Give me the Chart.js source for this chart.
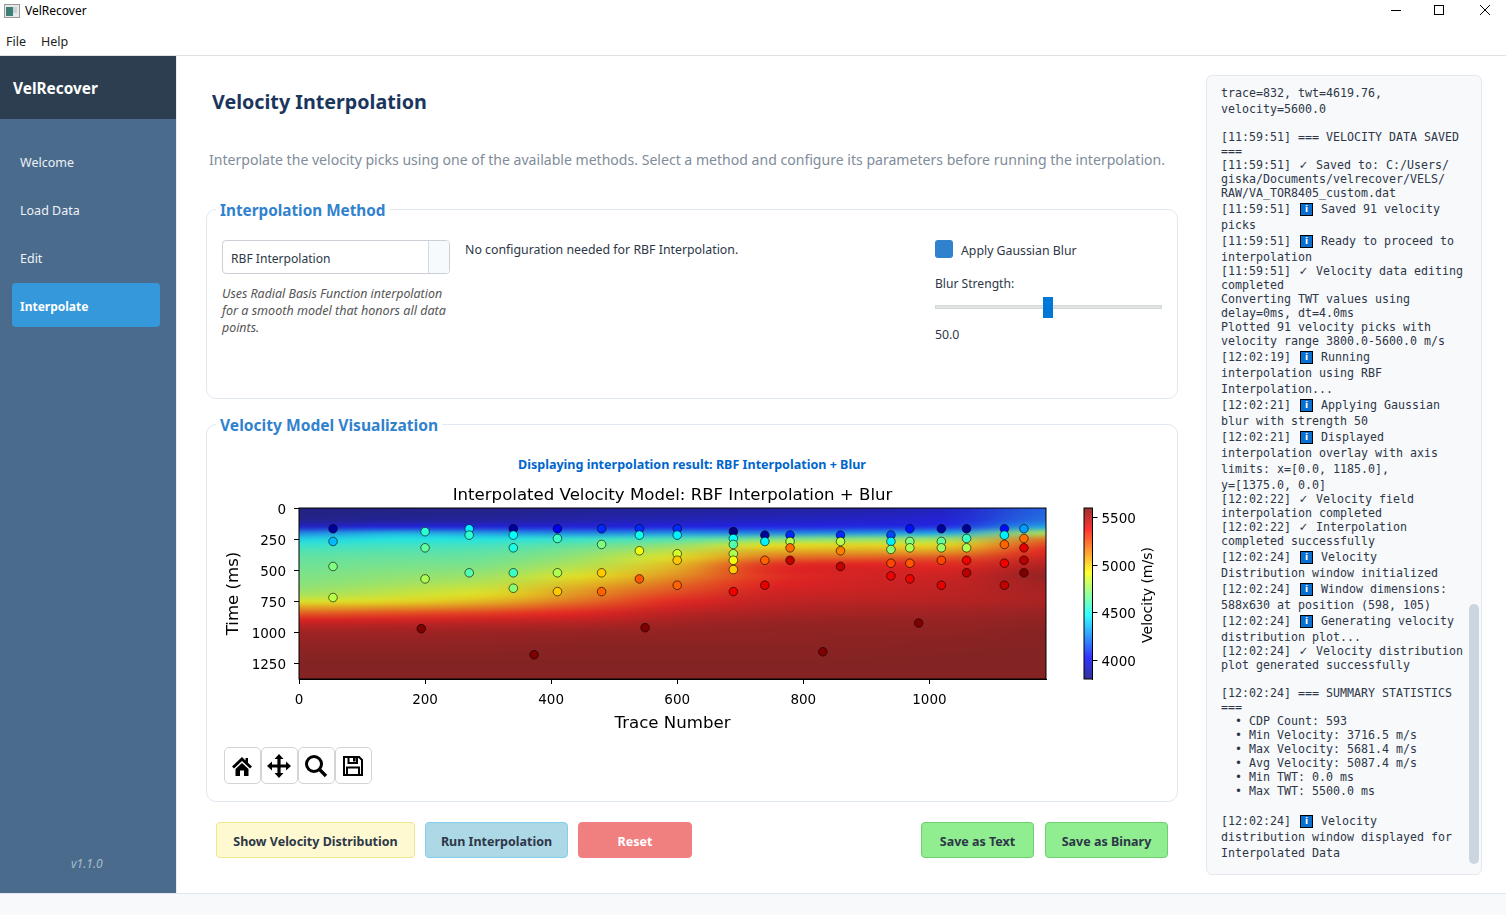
<!DOCTYPE html>
<html>
<head>
<meta charset="utf-8">
<title>VelRecover</title>
<script src="https://cdn.jsdelivr.net/npm/chart.js@4"></script>
<style>
html,body{margin:0;padding:0;width:1506px;height:915px;overflow:hidden;background:#fff;font-family:"Noto Sans",sans-serif;color:#2d3748}
.t{position:absolute;white-space:nowrap;line-height:20px;height:20px}
.b{position:absolute;box-sizing:border-box}
.btn{position:absolute;box-sizing:border-box;text-align:center;font-weight:700;font-size:12.5px;line-height:37px;height:36px;border-radius:4px;border:1px solid}
.tool{position:absolute;box-sizing:border-box;top:747px;width:37px;height:37px;border:1px solid #d4d4d4;border-radius:5px;background:#fff}
.tool svg{position:absolute;left:4px;top:5px}
.log{position:absolute;left:1221px;white-space:pre;font-family:"DejaVu Sans Mono",monospace;font-size:11.63px;line-height:16px;height:16px;color:#2d3748}
.info{display:inline-block;box-sizing:border-box;width:13px;height:13px;margin:0 1px 0 2px;background:#0a6fd0;border:1px solid #000;vertical-align:1px;color:#fff;font:700 9px/11px "DejaVu Sans";text-align:center}
.chk{display:inline-block;width:11px;text-align:center;font-size:13px;font-weight:700}
canvas{position:absolute;display:block}
</style>
</head>
<body>
<!-- title bar + menu -->
<svg class="b" style="left:4px;top:4px" width="16" height="14"><rect x=".5" y=".5" width="15" height="13" fill="#e8e8e8" stroke="#999"/><rect x="2" y="3" width="7" height="9" fill="#3f7f78"/><rect x="9" y="3" width="4" height="6" fill="#c9d3da"/></svg>
<div class="t" style="left:25px;top:1px;font-size:12px;color:#000">VelRecover</div>
<svg class="b" style="left:1385px;top:0" width="110" height="22"><path d="M6 10.5H16" stroke="#000"/><rect x="49.5" y="5.5" width="9" height="9" fill="none" stroke="#000"/><path d="M95 5L105 15M105 5L95 15" stroke="#000"/></svg>
<div class="t" style="left:6px;top:32px;font-size:12.5px;color:#222">File</div>
<div class="t" style="left:41px;top:32px;font-size:12.5px;color:#222">Help</div>
<div class="b" style="left:0;top:55px;width:1506px;height:1px;background:#dfe1e5"></div>

<!-- sidebar -->
<div class="b" style="left:0;top:56px;width:176px;height:837px;background:#4a6b8c"></div>
<div class="b" style="left:0;top:56px;width:176px;height:63px;background:#2c3e50"></div>
<div class="t" style="left:13px;top:79px;font-size:15.4px;font-weight:700;color:#fff">VelRecover</div>
<div class="t" style="left:20px;top:153px;font-size:12.5px;color:#edf2f7">Welcome</div>
<div class="t" style="left:20px;top:201px;font-size:12.5px;color:#edf2f7">Load Data</div>
<div class="t" style="left:20px;top:249px;font-size:12.5px;color:#edf2f7">Edit</div>
<div class="b" style="left:12px;top:283px;width:148px;height:44px;background:#3498db;border-radius:4px"></div>
<div class="t" style="left:20px;top:297px;font-size:12px;font-weight:700;color:#fff">Interpolate</div>
<div class="t" style="left:71px;top:854px;font-size:12px;font-style:italic;color:#a9bccb">v1.1.0</div>
<div class="b" style="left:176px;top:56px;width:1px;height:837px;background:#e8ebf0"></div>
<div class="b" style="left:0;top:893px;width:1506px;height:22px;background:#f8f9fb;border-top:1px solid #e2e6ee"></div>

<!-- heading -->
<div class="t" style="left:212px;top:92px;font-size:19.7px;font-weight:700;color:#1a365d">Velocity Interpolation</div>
<div class="t" style="left:209px;top:150px;font-size:14.07px;color:#7f8c9a">Interpolate the velocity picks using one of the available methods. Select a method and configure its parameters before running the interpolation.</div>

<!-- interpolation method group -->
<div class="b" style="left:206px;top:209px;width:972px;height:190px;border:1px solid #e2e8f0;border-radius:10px"></div>
<div class="t" style="left:216px;top:200px;padding:0 4px;background:#fff;font-size:15.3px;font-weight:700;color:#3182ce">Interpolation Method</div>
<div class="b" style="left:222px;top:240px;width:228px;height:34px;border:1px solid #cbd0d6;border-radius:4px"></div>
<div class="b" style="left:428px;top:241px;width:21px;height:32px;background:#f7fafc;border-left:1px solid #d5dae0;border-radius:0 3px 3px 0"></div>
<div class="t" style="left:231px;top:249px;font-size:12.1px;color:#2d3748">RBF Interpolation</div>
<div class="t" style="left:222px;top:284px;font-size:12.4px;font-style:italic;color:#555">Uses Radial Basis Function interpolation</div>
<div class="t" style="left:222px;top:301px;font-size:12.55px;font-style:italic;color:#555">for a smooth model that honors all data</div>
<div class="t" style="left:222px;top:318px;font-size:12.4px;font-style:italic;color:#555">points.</div>
<div class="t" style="left:465px;top:240px;font-size:12.35px;color:#2d3748">No configuration needed for RBF Interpolation.</div>
<div class="b" style="left:935px;top:240px;width:18px;height:18px;background:#3182ce;border-radius:3px"></div>
<div class="t" style="left:961px;top:241px;font-size:12.3px;color:#2d3748">Apply Gaussian Blur</div>
<div class="t" style="left:935px;top:274px;font-size:12.1px;color:#2d3748">Blur Strength:</div>
<div class="b" style="left:935px;top:305px;width:227px;height:4px;background:#e0e3e4;border:1px solid #d3d7d8"></div>
<div class="b" style="left:1043px;top:297px;width:10px;height:21px;background:#0078d7"></div>
<div class="t" style="left:935px;top:325px;font-size:12.3px;color:#2d3748">50.0</div>

<!-- velocity model group -->
<div class="b" style="left:206px;top:424px;width:972px;height:378px;border:1px solid #e2e8f0;border-radius:10px"></div>
<div class="t" style="left:216px;top:415px;padding:0 4px;background:#fff;font-size:15.6px;font-weight:700;color:#3182ce">Velocity Model Visualization</div>
<div class="t" style="left:518px;top:455px;font-size:12.55px;font-weight:700;color:#0066cc">Displaying interpolation result: RBF Interpolation + Blur</div>

<canvas id="velChart" width="845" height="262" style="left:215px;top:478px"></canvas>
<canvas id="barChart" width="100" height="191" style="left:1070px;top:498px"></canvas>

<!-- plot toolbar -->
<div class="tool" style="left:224px"><svg width="26" height="26" viewBox="0 0 26 26"><path d="M13 4L3 13.5L5 15.5L13 8L21 15.5L23 13.5L19 9.8V5H16.5V7.5ZM6.5 16V23H11V17.5H15V23H19.5V16L13 10Z"/></svg></div>
<div class="tool" style="left:261px"><svg width="26" height="26" viewBox="0 0 26 26"><path d="M13 1L17.5 6H14.6V11.4H20V8.5L25 13L20 17.5V14.6H14.6V20H17.5L13 25L8.5 20H11.4V14.6H6V17.5L1 13L6 8.5V11.4H11.4V6H8.5Z"/></svg></div>
<div class="tool" style="left:298px"><svg width="26" height="26" viewBox="0 0 26 26"><circle cx="11" cy="11" r="7.5" fill="none" stroke="#000" stroke-width="3"/><path d="M16.5 16.5L23 23" stroke="#000" stroke-width="3.4"/></svg></div>
<div class="tool" style="left:335px"><svg width="26" height="26" viewBox="0 0 26 26"><path d="M4 4H19L22 7V22H4ZM8.5 4.5V10H17V4.5M7 22V14.5H19V22" fill="none" stroke="#000" stroke-width="2"/><rect x="13" y="5" width="2.6" height="3.5"/></svg></div>

<!-- action buttons -->
<div class="btn" style="left:216px;top:822px;width:199px;background:#fff9d1;border-color:#f0e68c;color:#2d3748">Show Velocity Distribution</div>
<div class="btn" style="left:425px;top:822px;width:143px;background:#add8e6;border-color:#87ceeb;color:#2d3748">Run Interpolation</div>
<div class="btn" style="left:578px;top:822px;width:114px;background:#f08080;border-color:#f08080;color:#fff">Reset</div>
<div class="btn" style="left:921px;top:822px;width:113px;background:#90ee90;border-color:#6fcf6f;color:#2d3748">Save as Text</div>
<div class="btn" style="left:1045px;top:822px;width:123px;background:#90ee90;border-color:#6fcf6f;color:#2d3748">Save as Binary</div>

<!-- console -->
<div class="b" style="left:1206px;top:75px;width:276px;height:800px;background:#f7f9fb;border:1px solid #e4e8ee;border-radius:6px"></div>
<div class="b" style="left:1469px;top:604px;width:10px;height:260px;background:#cbd5e0;border-radius:5px"></div>
<div id="logBox"></div>

<script>
// velocity picks
const pickTraces = [54,54,54,54,200,200,200,194,270,270,270,340,340,340,340,340,373,410,410,410,410,480,480,480,480,540,540,540,540,549,600,600,600,600,600,
  689,689,689,689,689,689,689,739,739,739,739,779,779,779,779,831,859,859,859,859,939,939,939,939,939,969,969,969,969,969,983,1019,1019,1019,1019,1019,1059,1059,1059,1059,1059,1119,1119,1119,1119,1119,1150,1150,1150,1150,1150];
const pickTimes = [167,269,470,720,190,320,570,970,167,218,521,167,218,320,521,645,1180,167,245,521,672,167,293,521,672,167,218,344,570,962,167,218,368,420,621,
  190,245,293,368,420,495,672,218,269,420,621,218,269,320,420,1156,218,269,344,470,218,269,333,444,546,167,269,320,444,570,925,167,269,320,420,621,167,245,320,420,521,167,218,293,444,621,167,245,320,420,521];
const pickVelocities = [3850,4350,4700,4800,4550,4650,4780,5600,4450,4550,4620,3850,4480,4520,4580,4720,5600,4000,4580,4780,5020,4100,4700,5020,5200,4100,4500,4900,5220,5600,4100,4450,4850,5020,5200,
  3800,4480,4620,4780,4900,5020,5400,3850,4450,5200,5420,4100,4780,5180,5480,5600,4100,4800,5150,5480,4150,4450,4720,5250,5400,4050,4700,4780,5220,5400,5600,3850,4650,4750,5250,5420,3830,4580,4780,5400,5500,4050,4450,5200,5400,5480,4300,5180,5420,5500,5600];

// velocity field, one list per trace column, rows every 50 ms
const fieldTimes = [0,50,100,150,200,250,300,350,400,450,500,550,600,650,700,750,800,850,900,950,1000,1050,1100,1150,1200,1250,1300,1350];
const fieldTraces = [0,148,296,444,592,740,888,1036,1185];
const fieldT0    = [3800,3800,3830,3950,4250,4430,4530,4590,4630,4650,4670,4690,4710,4740,4790,4900,5080,5250,5400,5480,5530,5550,5570,5580,5590,5600,5600,5600];
const fieldT148  = [3810,3820,3850,4000,4350,4480,4550,4600,4640,4670,4700,4730,4760,4810,4860,4950,5110,5280,5410,5490,5530,5550,5570,5580,5590,5600,5600,5600];
const fieldT296  = [3820,3830,3870,3990,4300,4480,4560,4610,4650,4680,4720,4770,4820,4880,4940,5030,5170,5320,5430,5500,5540,5560,5570,5580,5590,5600,5600,5600];
const fieldT444  = [3840,3860,3900,4000,4250,4530,4630,4700,4750,4800,4860,4930,5000,5070,5120,5190,5290,5380,5450,5510,5550,5570,5580,5590,5590,5600,5600,5600];
const fieldT592  = [3850,3880,3930,4020,4280,4580,4730,4840,4930,5000,5050,5110,5180,5240,5300,5360,5420,5470,5510,5540,5560,5570,5580,5590,5590,5600,5600,5600];
const fieldT740  = [3860,3900,3950,4030,4250,4680,4930,5060,5180,5330,5360,5340,5370,5400,5430,5450,5480,5510,5540,5560,5570,5570,5580,5590,5590,5600,5600,5600];
const fieldT888  = [3880,3920,3970,4040,4280,4730,4960,5080,5230,5370,5410,5410,5420,5430,5450,5470,5500,5520,5550,5560,5570,5580,5580,5590,5590,5600,5600,5600];
const fieldT1036 = [3950,3970,4000,4060,4330,4760,4960,5100,5260,5350,5400,5430,5450,5460,5470,5480,5510,5530,5550,5560,5570,5580,5590,5590,5600,5600,5600,5600];
const fieldT1185 = [4180,4190,4220,4340,4800,5180,5310,5380,5430,5480,5530,5560,5530,5520,5510,5510,5530,5550,5570,5580,5590,5590,5590,5600,5600,5600,5600,5600];
const fieldColumns = [fieldT0,fieldT148,fieldT296,fieldT444,fieldT592,fieldT740,fieldT888,fieldT1036,fieldT1185];

const xTicks = [0,200,400,600,800,1000];
const yTicks = [0,250,500,750,1000,1250];
const barTicks = [4000,4500,5000,5500];

const traceMax = 1185;
const timeMax = 1375;
const velMin = 3800;
const velMax = 5600;

const tickFont = {family:'"DejaVu Sans"', size:13.5};
const labelFont = {family:'"DejaVu Sans"', size:16.6};
// y labels sit about 2px too high, an empty first line with a small lineHeight pushes them down
const yTickFont = {family:'"DejaVu Sans"', size:13.5, lineHeight:0.3};

// matplotlib jet
function jet(v) {
    let t = (v - velMin) / (velMax - velMin);
    t = Math.max(0, Math.min(1, t));
    const c = x => Math.round(255 * Math.max(0, Math.min(1, 1.5 - Math.abs(4 * t - x))));
    return [c(3), c(2), c(1)];
}

function makeFieldImage() {
    const off = document.createElement('canvas');
    off.width = fieldColumns.length;
    off.height = fieldTimes.length;
    const o = off.getContext('2d');
    const img = o.createImageData(off.width, off.height);
    fieldColumns.forEach((col, i) => {
        col.forEach((v, j) => {
            const rgb = jet(v);
            const k = (j * off.width + i) * 4;
            img.data[k] = rgb[0];
            img.data[k + 1] = rgb[1];
            img.data[k + 2] = rgb[2];
            img.data[k + 3] = 255;
        });
    });
    o.putImageData(img, 0, 0);
    return off;
}

const fieldPlugin = {
    id: 'field',
    beforeDatasetsDraw(chart) {
        const {ctx, chartArea: a, scales} = chart;
        const halfTrace = (fieldTraces[1] - fieldTraces[0]) / 2;
        const halfTime = (fieldTimes[1] - fieldTimes[0]) / 2;
        const x0 = scales.x.getPixelForValue(fieldTraces[0] - halfTrace);
        const x1 = scales.x.getPixelForValue(traceMax + halfTrace);
        const y0 = scales.y.getPixelForValue(fieldTimes[0] - halfTime);
        const y1 = scales.y.getPixelForValue(timeMax);
        ctx.save();
        ctx.beginPath();
        ctx.rect(a.left, a.top, a.width, a.height);
        ctx.clip();
        // overlay sits on a grey seismic image in the original
        ctx.fillStyle = '#8c8c8c';
        ctx.fillRect(a.left, a.top, a.width, a.height);
        ctx.imageSmoothingEnabled = true;
        ctx.imageSmoothingQuality = 'high';
        ctx.globalAlpha = 0.75;
        ctx.drawImage(makeFieldImage(), x0, y0, x1 - x0, y1 - y0);
        ctx.restore();
    },
    afterDatasetsDraw(chart) {
        const {ctx, chartArea: a} = chart;
        ctx.save();
        ctx.strokeStyle = '#000';
        ctx.lineWidth = 1;
        ctx.strokeRect(a.left, a.top, a.width, a.height);
        ctx.restore();
    }
};

new Chart(document.getElementById('velChart'), {
    type: 'scatter',
    data: {
        datasets: [{
            data: pickTraces.map((x, i) => ({x: x, y: pickTimes[i]})),
            pointRadius: 4.3,
            pointBorderWidth: 1,
            pointBorderColor: 'rgba(0,0,0,0.6)',
            pointBackgroundColor: pickVelocities.map(v => 'rgb(' + jet(v).join(',') + ')')
        }]
    },
    plugins: [fieldPlugin],
    options: {
        responsive: false,
        animation: false,
        layout: {padding: {right: 14}},
        plugins: {
            legend: {display: false},
            tooltip: {enabled: false},
            title: {
                display: true,
                text: 'Interpolated Velocity Model: RBF Interpolation + Blur',
                color: '#000',
                fullSize: false,
                font: {family:'"DejaVu Sans"', size:16.6, weight:'normal'},
                padding: {top:8, bottom:2.1}
            }
        },
        scales: {
            x: {
                type: 'linear',
                min: 0,
                max: traceMax,
                afterBuildTicks: s => { s.ticks = xTicks.map(v => ({value: v})); },
                afterFit: s => { s.height = 61; },
                grid: {drawOnChartArea: false, color: '#000', tickLength: 5},
                border: {color: '#000'},
                ticks: {color: '#000', font: tickFont, padding: 8, maxRotation: 0, autoSkip: false, callback: v => String(v)},
                title: {display: true, text: 'Trace Number', color: '#000', font: labelFont, padding: {top: 2, bottom: 6}}
            },
            y: {
                type: 'linear',
                reverse: true,
                min: 0,
                max: timeMax,
                afterBuildTicks: s => { s.ticks = yTicks.map(v => ({value: v})); },
                afterFit: s => { s.width = 84; },
                grid: {drawOnChartArea: false, color: '#000', tickLength: 5},
                border: {color: '#000'},
                ticks: {color: '#000', font: yTickFont, padding: 8, autoSkip: false, callback: v => ['', String(v)]},
                title: {display: true, text: 'Time (ms)', color: '#000', font: labelFont, padding: {top: 9, bottom: 0}}
            }
        }
    }
});

// colour bar, same jet scale with its own axis
const barPlugin = {
    id: 'bar',
    beforeDatasetsDraw(chart) {
        const {ctx, chartArea: a, scales} = chart;
        ctx.save();
        ctx.globalAlpha = 0.8;
        for (let py = Math.floor(a.top); py < a.bottom; py++) {
            ctx.fillStyle = 'rgb(' + jet(scales.y.getValueForPixel(py + 0.5)).join(',') + ')';
            ctx.fillRect(a.left, py, a.width, 1);
        }
        ctx.restore();
        ctx.strokeStyle = '#000';
        ctx.strokeRect(a.left, a.top, a.width, a.height);
    },
    afterDraw(chart) {
        const {ctx, chartArea: a} = chart;
        ctx.save();
        ctx.translate(78, (a.top + a.bottom) / 2 + 1.5);
        ctx.rotate(-Math.PI / 2);
        ctx.fillStyle = '#000';
        ctx.font = '14px "DejaVu Sans"';
        ctx.textAlign = 'center';
        ctx.textBaseline = 'middle';
        ctx.fillText('Velocity (m/s)', 0, 0);
        ctx.restore();
    }
};

new Chart(document.getElementById('barChart'), {
    type: 'scatter',
    data: {datasets: [{data: []}]},
    plugins: [barPlugin],
    options: {
        responsive: false,
        animation: false,
        layout: {padding: {left: 14, top: 10, bottom: 10}},
        plugins: {legend: {display: false}, tooltip: {enabled: false}},
        scales: {
            x: {display: false, min: 0, max: 1},
            y: {
                position: 'right',
                min: velMin,
                max: velMax,
                afterBuildTicks: s => { s.ticks = barTicks.map(v => ({value: v})); },
                afterFit: s => { s.width = 77.5; s.paddingTop = 0; s.paddingBottom = 0; },
                grid: {drawOnChartArea: false, color: '#000', tickLength: 5},
                border: {color: '#000'},
                ticks: {color: '#000', font: yTickFont, padding: 4, autoSkip: false, callback: v => ['', String(v)]}
            }
        }
    }
});

// console text: y centre, text. @ = info icon, % = check mark
const logLines = [
    [93,'trace=832, twt=4619.76,'],[109,'velocity=5600.0'],
    [137,'[11:59:51] === VELOCITY DATA SAVED'],[151,'==='],
    [165,'[11:59:51] % Saved to: C:/Users/'],[179,'giska/Documents/velrecover/VELS/'],[193,'RAW/VA_TOR8405_custom.dat'],
    [209,'[11:59:51] @ Saved 91 velocity'],[225,'picks'],
    [241,'[11:59:51] @ Ready to proceed to'],[257,'interpolation'],
    [271,'[11:59:51] % Velocity data editing'],[285,'completed'],
    [299,'Converting TWT values using'],[313,'delay=0ms, dt=4.0ms'],
    [327,'Plotted 91 velocity picks with'],[341,'velocity range 3800.0-5600.0 m/s'],
    [357,'[12:02:19] @ Running'],[373,'interpolation using RBF'],[389,'Interpolation...'],
    [405,'[12:02:21] @ Applying Gaussian'],[421,'blur with strength 50'],
    [437,'[12:02:21] @ Displayed'],[453,'interpolation overlay with axis'],
    [469,'limits: x=[0.0, 1185.0],'],[485,'y=[1375.0, 0.0]'],
    [499,'[12:02:22] % Velocity field'],[513,'interpolation completed'],
    [527,'[12:02:22] % Interpolation'],[541,'completed successfully'],
    [557,'[12:02:24] @ Velocity'],[573,'Distribution window initialized'],
    [589,'[12:02:24] @ Window dimensions:'],[605,'588x630 at position (598, 105)'],
    [621,'[12:02:24] @ Generating velocity'],[637,'distribution plot...'],
    [651,'[12:02:24] % Velocity distribution'],[665,'plot generated successfully'],
    [693,'[12:02:24] === SUMMARY STATISTICS'],[707,'==='],
    [721,'  \u2022 CDP Count: 593'],[735,'  \u2022 Min Velocity: 3716.5 m/s'],[749,'  \u2022 Max Velocity: 5681.4 m/s'],
    [763,'  \u2022 Avg Velocity: 5087.4 m/s'],[777,'  \u2022 Min TWT: 0.0 ms'],[791,'  \u2022 Max TWT: 5500.0 ms'],
    [821,'[12:02:24] @ Velocity'],[837,'distribution window displayed for'],[853,'Interpolated Data']
];

const logBox = document.getElementById('logBox');
logLines.forEach(line => {
    const el = document.createElement('div');
    el.className = 'log';
    el.style.top = (line[0] - 8) + 'px';
    line[1].split(/([@%])/).forEach(part => {
        if (part === '@' || part === '%') {
            const s = document.createElement('span');
            s.className = part === '@' ? 'info' : 'chk';
            s.textContent = part === '@' ? 'i' : '\u2713';
            el.appendChild(s);
        } else {
            el.appendChild(document.createTextNode(part));
        }
    });
    logBox.appendChild(el);
});
</script>
</body>
</html>
